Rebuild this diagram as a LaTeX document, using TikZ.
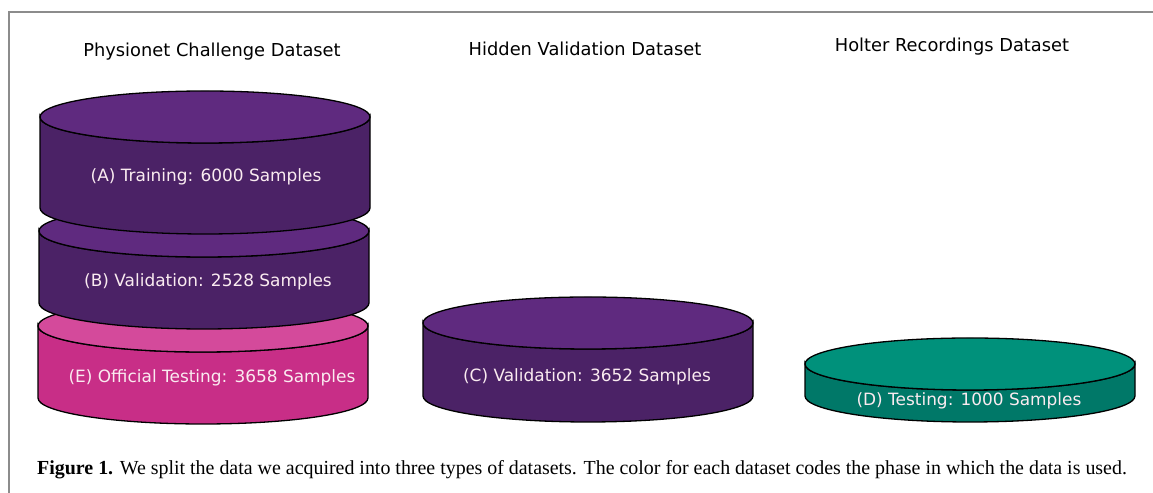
\documentclass[tikz,border=0pt]{standalone}
\usepackage{fontspec}
\setmainfont{DejaVu Sans}
\newfontfamily\capfont{Liberation Serif}
\definecolor{purpTop}{HTML}{5F2A7F}
\definecolor{purpSide}{HTML}{4B2266}
\definecolor{pinkTop}{HTML}{D44A9B}
\definecolor{pinkSide}{HTML}{C82E87}
\definecolor{tealTop}{HTML}{00917B}
\definecolor{tealSide}{HTML}{007868}
\definecolor{frameGray}{HTML}{8C8C8C}
\newcommand{\cylshape}[7]{%
  \draw[cylline, fill=#7] (#1-#4,#2) -- (#1-#4,#3)
    arc[start angle=180, end angle=360, x radius=#4, y radius=#5]
    -- (#1+#4,#2)
    arc[start angle=0, end angle=-180, x radius=#4, y radius=#5] -- cycle;
  \draw[cylline, fill=#6] (#1,#2) ellipse[x radius=#4, y radius=#5];
}
\begin{document}
\begin{tikzpicture}[x=1bp, y=1bp,
  cylline/.style={draw=black, line width=1.3bp},
  title/.style={font=\fontsize{17.9}{21}\selectfont, text=black, inner sep=0pt},
  cyllabel/.style={font=\fontsize{17}{20}\selectfont, text=white!92!purple, inner sep=0pt},
  frameline/.style={draw=frameGray, line width=1.3bp}]
\useasboundingbox (0,0) rectangle (1153,493);
\draw[frameline] (9,0) -- (9,481) -- (1153,481);
% titles
\node[title] (tP) at (212,441) {Physionet Challenge Dataset};
\node[title] (tH) at (585,444) {Hidden Validation Dataset};
\node[title] (tO) at (952,446) {Holter Recordings Dataset};
% Physionet stack (bottom first)
\cylshape{203}{167}{95}{165}{26}{pinkTop}{pinkSide}
\cylshape{204}{262}{190}{165}{26}{purpTop}{purpSide}
\cylshape{205}{376}{285}{165}{26}{purpTop}{purpSide}
\node[cyllabel] (lA) at (206,316) {(A) Training: 6000 Samples};
\node[cyllabel] (lB) at (208,211) {(B) Validation: 2528 Samples};
\node[cyllabel] (lE) at (212,115) {(E) Official Testing: 3658 Samples};
% Hidden validation
\cylshape{588}{170}{97}{165}{26}{purpTop}{purpSide}
\node[cyllabel] (lC) at (587,116) {(C) Validation: 3652 Samples};
% Holter
\cylshape{970}{129}{97}{165}{26}{tealTop}{tealSide}
\node[cyllabel] (lD) at (969,92) {(D) Testing: 1000 Samples};
% caption
\node[anchor=base west, inner sep=0pt, font=\capfont\fontsize{20}{24}\selectfont] (cap) at (37,18)
  {\textbf{Figure 1.} We split the data we acquired into three types of datasets. The color for each dataset codes the phase in which the data is used.};
\end{tikzpicture}
\end{document}
